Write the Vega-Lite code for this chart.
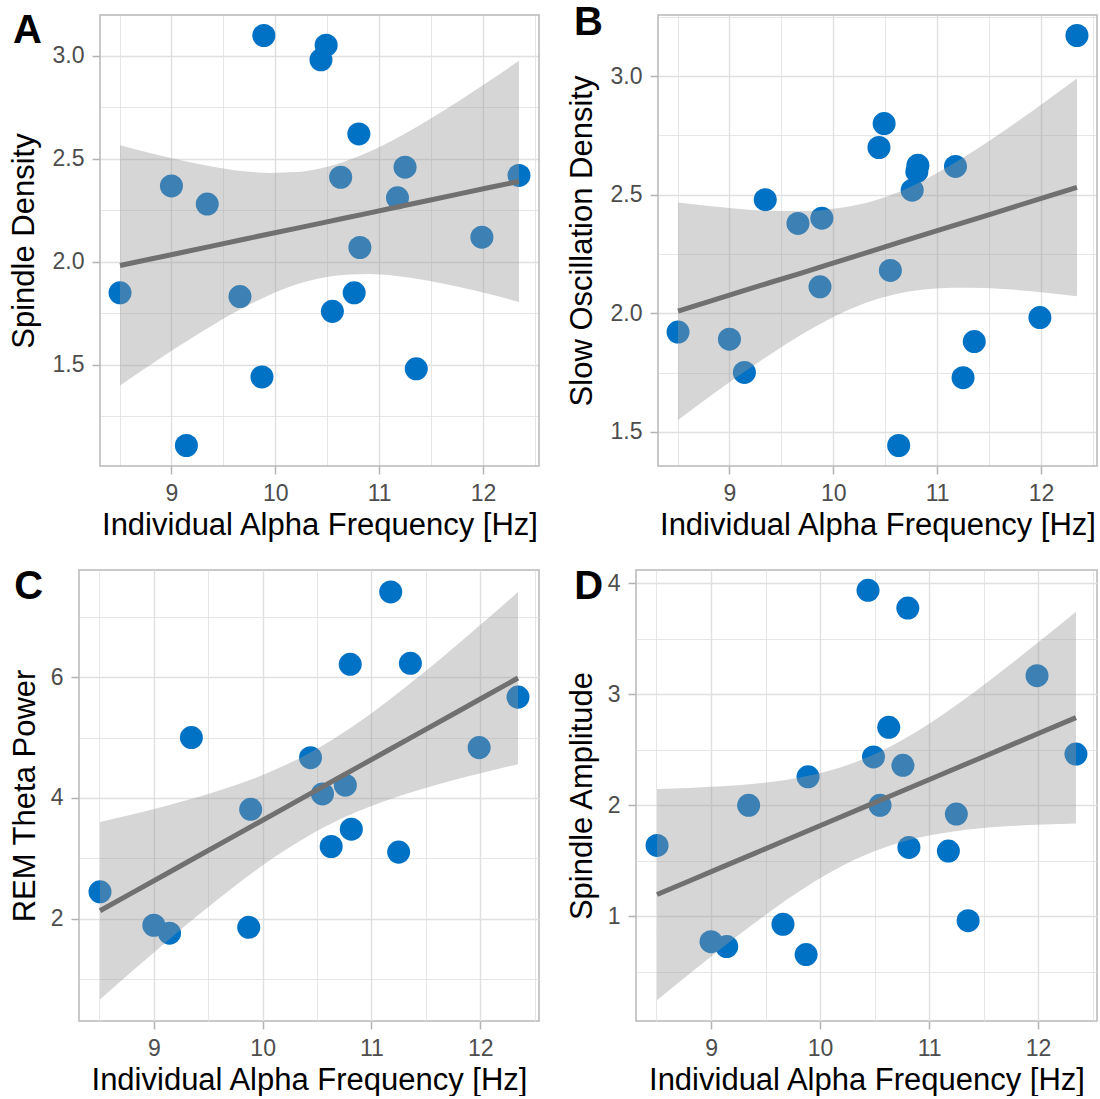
{
  "$schema": "https://vega.github.io/schema/vega-lite/v6.json",
  "padding": {"left": 8, "top": 2, "right": 0, "bottom": 0},
  "background": "#ffffff",
  "config": {
    "font": "Liberation Sans",
    "view": {"stroke": "#B8B8B8", "strokeWidth": 1.5},
    "axis": {"domain": false, "grid": true, "gridColor": "#E0E0E0", "labelFontSize": 23, "labelColor": "#4D4D4D", "labelPadding": 8, "labelOverlap": false, "labelFlush": false, "titleFontSize": 31, "titleFontWeight": "normal", "titleColor": "#000000", "tickColor": "#B3B3B3", "tickSize": 8, "tickWidth": 1.5},
    "axisX": {"titlePadding": 5},
    "axisY": {"titlePadding": 12}
  },
  "datasets": {
    "ptsA": [
      {"x": 8.505, "y": 1.849}, {"x": 9.0, "y": 2.368}, {"x": 9.144, "y": 1.108}, {"x": 9.345, "y": 2.28}, {"x": 9.66, "y": 1.831}, {"x": 9.872, "y": 1.441}, {"x": 9.89, "y": 3.098}, {"x": 10.44, "y": 2.98}, {"x": 10.49, "y": 3.051}, {"x": 10.55, "y": 1.759}, {"x": 10.63, "y": 2.41}, {"x": 10.76, "y": 1.849}, {"x": 10.805, "y": 2.62}, {"x": 10.815, "y": 2.069}, {"x": 11.177, "y": 2.31}, {"x": 11.25, "y": 2.459}, {"x": 11.358, "y": 1.48}, {"x": 11.99, "y": 2.119}, {"x": 12.347, "y": 2.419}
    ],
    "ptsB": [
      {"x": 8.505, "y": 1.921}, {"x": 9.0, "y": 1.891}, {"x": 9.144, "y": 1.751}, {"x": 9.345, "y": 2.479}, {"x": 9.66, "y": 2.379}, {"x": 9.872, "y": 2.112}, {"x": 9.89, "y": 2.401}, {"x": 10.44, "y": 2.699}, {"x": 10.49, "y": 2.8}, {"x": 10.55, "y": 2.181}, {"x": 10.63, "y": 1.443}, {"x": 10.76, "y": 2.519}, {"x": 10.805, "y": 2.597}, {"x": 10.815, "y": 2.624}, {"x": 11.177, "y": 2.619}, {"x": 11.25, "y": 1.729}, {"x": 11.358, "y": 1.881}, {"x": 11.99, "y": 1.982}, {"x": 12.347, "y": 3.171}
    ],
    "ptsC": [
      {"x": 8.505, "y": 2.444}, {"x": 9.0, "y": 1.89}, {"x": 9.144, "y": 1.758}, {"x": 9.345, "y": 5.001}, {"x": 9.872, "y": 1.856}, {"x": 9.89, "y": 3.812}, {"x": 10.44, "y": 4.667}, {"x": 10.55, "y": 4.067}, {"x": 10.63, "y": 3.195}, {"x": 10.76, "y": 4.211}, {"x": 10.805, "y": 6.214}, {"x": 10.815, "y": 3.483}, {"x": 11.177, "y": 7.414}, {"x": 11.25, "y": 3.102}, {"x": 11.358, "y": 6.231}, {"x": 11.99, "y": 4.834}, {"x": 12.347, "y": 5.671}
    ],
    "ptsD": [
      {"x": 8.505, "y": 1.637}, {"x": 9.0, "y": 0.77}, {"x": 9.144, "y": 0.726}, {"x": 9.345, "y": 1.999}, {"x": 9.66, "y": 0.927}, {"x": 9.872, "y": 0.654}, {"x": 9.89, "y": 2.256}, {"x": 10.44, "y": 3.937}, {"x": 10.49, "y": 2.435}, {"x": 10.55, "y": 1.999}, {"x": 10.63, "y": 2.702}, {"x": 10.76, "y": 2.36}, {"x": 10.805, "y": 3.777}, {"x": 10.815, "y": 1.619}, {"x": 11.177, "y": 1.587}, {"x": 11.25, "y": 1.92}, {"x": 11.358, "y": 0.959}, {"x": 11.99, "y": 3.167}, {"x": 12.347, "y": 2.461}
    ],
    "bandA": [
      {"x": 8.505, "lo": 1.399, "hi": 2.565, "fit": 1.982}, {"x": 8.8, "lo": 1.5, "hi": 2.527, "fit": 2.013}, {"x": 9.1, "lo": 1.599, "hi": 2.491, "fit": 2.045}, {"x": 9.4, "lo": 1.693, "hi": 2.461, "fit": 2.077}, {"x": 9.7, "lo": 1.779, "hi": 2.439, "fit": 2.109}, {"x": 9.95, "lo": 1.84, "hi": 2.431, "fit": 2.136}, {"x": 10.2, "lo": 1.889, "hi": 2.435, "fit": 2.162}, {"x": 10.43, "lo": 1.92, "hi": 2.453, "fit": 2.186}, {"x": 10.65, "lo": 1.936, "hi": 2.483, "fit": 2.21}, {"x": 10.9, "lo": 1.94, "hi": 2.532, "fit": 2.236}, {"x": 11.15, "lo": 1.932, "hi": 2.594, "fit": 2.263}, {"x": 11.45, "lo": 1.91, "hi": 2.68, "fit": 2.295}, {"x": 11.75, "lo": 1.88, "hi": 2.774, "fit": 2.327}, {"x": 12.05, "lo": 1.844, "hi": 2.873, "fit": 2.359}, {"x": 12.347, "lo": 1.805, "hi": 2.975, "fit": 2.39}
    ],
    "bandB": [
      {"x": 8.505, "lo": 1.551, "hi": 2.467, "fit": 2.009}, {"x": 8.8, "lo": 1.646, "hi": 2.452, "fit": 2.049}, {"x": 9.1, "lo": 1.74, "hi": 2.44, "fit": 2.09}, {"x": 9.4, "lo": 1.829, "hi": 2.432, "fit": 2.131}, {"x": 9.7, "lo": 1.912, "hi": 2.431, "fit": 2.171}, {"x": 9.95, "lo": 1.973, "hi": 2.438, "fit": 2.205}, {"x": 10.2, "lo": 2.025, "hi": 2.454, "fit": 2.239}, {"x": 10.43, "lo": 2.061, "hi": 2.48, "fit": 2.271}, {"x": 10.65, "lo": 2.086, "hi": 2.515, "fit": 2.301}, {"x": 10.9, "lo": 2.102, "hi": 2.567, "fit": 2.335}, {"x": 11.15, "lo": 2.108, "hi": 2.629, "fit": 2.369}, {"x": 11.45, "lo": 2.107, "hi": 2.712, "fit": 2.409}, {"x": 11.75, "lo": 2.099, "hi": 2.801, "fit": 2.45}, {"x": 12.05, "lo": 2.087, "hi": 2.895, "fit": 2.491}, {"x": 12.347, "lo": 2.072, "hi": 2.99, "fit": 2.531}
    ],
    "bandC": [
      {"x": 8.505, "lo": 0.659, "hi": 3.601, "fit": 2.13}, {"x": 8.8, "lo": 1.126, "hi": 3.726, "fit": 2.426}, {"x": 9.1, "lo": 1.592, "hi": 3.862, "fit": 2.727}, {"x": 9.4, "lo": 2.046, "hi": 4.011, "fit": 3.029}, {"x": 9.7, "lo": 2.48, "hi": 4.18, "fit": 3.33}, {"x": 9.95, "lo": 2.818, "hi": 4.343, "fit": 3.581}, {"x": 10.2, "lo": 3.128, "hi": 4.536, "fit": 3.832}, {"x": 10.43, "lo": 3.381, "hi": 4.745, "fit": 4.063}, {"x": 10.65, "lo": 3.591, "hi": 4.976, "fit": 4.284}, {"x": 10.9, "lo": 3.794, "hi": 5.276, "fit": 4.535}, {"x": 11.15, "lo": 3.965, "hi": 5.606, "fit": 4.786}, {"x": 11.45, "lo": 4.14, "hi": 6.033, "fit": 5.087}, {"x": 11.75, "lo": 4.293, "hi": 6.483, "fit": 5.388}, {"x": 12.05, "lo": 4.432, "hi": 6.946, "fit": 5.689}, {"x": 12.347, "lo": 4.56, "hi": 7.415, "fit": 5.987}
    ],
    "bandD": [
      {"x": 8.505, "lo": 0.243, "hi": 2.147, "fit": 1.195}, {"x": 8.8, "lo": 0.479, "hi": 2.156, "fit": 1.317}, {"x": 9.1, "lo": 0.714, "hi": 2.17, "fit": 1.442}, {"x": 9.4, "lo": 0.939, "hi": 2.193, "fit": 1.566}, {"x": 9.7, "lo": 1.152, "hi": 2.23, "fit": 1.691}, {"x": 9.95, "lo": 1.312, "hi": 2.277, "fit": 1.795}, {"x": 10.2, "lo": 1.453, "hi": 2.344, "fit": 1.898}, {"x": 10.43, "lo": 1.559, "hi": 2.429, "fit": 1.994}, {"x": 10.65, "lo": 1.639, "hi": 2.532, "fit": 2.085}, {"x": 10.9, "lo": 1.706, "hi": 2.672, "fit": 2.189}, {"x": 11.15, "lo": 1.752, "hi": 2.834, "fit": 2.293}, {"x": 11.45, "lo": 1.789, "hi": 3.046, "fit": 2.417}, {"x": 11.75, "lo": 1.812, "hi": 3.272, "fit": 2.542}, {"x": 12.05, "lo": 1.826, "hi": 3.506, "fit": 2.666}, {"x": 12.347, "lo": 1.835, "hi": 3.744, "fit": 2.789}
    ]
  },
  "columns": 2,
  "spacing": {"row": 26, "column": 25},
  "concat": [
    {
      "width": 460, "height": 451,
      "view": {"stroke": null},
      "title": {"text": "A", "anchor": "start", "frame": "bounds", "fontSize": 40, "fontWeight": "bold", "color": "#000000", "offset": 0, "dy": 37, "dx": 5},
      "layer": [
        {"data": {"values": [{"panel": "A"}]}, "mark": {"type": "rect", "fill": "transparent", "stroke": "#B8B8B8", "strokeWidth": 1.5},
         "encoding": {
           "x": {"datum": 8.312, "type": "quantitative", "scale": {"domain": [8.312, 12.54], "range": [21, 460], "nice": false, "zero": false}, "title": "Individual Alpha Frequency [Hz]"},
           "x2": {"datum": 12.54},
           "y": {"datum": 1.0085, "type": "quantitative", "scale": {"domain": [1.0085, 3.1975], "nice": false, "zero": false}, "title": "Spindle Density"},
           "y2": {"datum": 3.1975}
         }},
        {"data": {"name": "ptsA"}, "mark": {"type": "circle", "size": 530, "opacity": 1, "color": "#0072C6"},
         "encoding": {
           "x": {"field": "x", "type": "quantitative", "scale": {"domain": [8.312, 12.54], "range": [21, 460], "nice": false, "zero": false}, "title": "Individual Alpha Frequency [Hz]",
                 "axis": {"values": [8.5, 9, 9.5, 10, 10.5, 11, 11.5, 12, 12.5], "labelExpr": "abs(datum.value - round(datum.value)) < 0.001 ? format(datum.value, 'd') : ''", "tickOpacity": {"condition": {"test": "abs(datum.value - round(datum.value)) < 0.001", "value": 1}, "value": 0}, "gridWidth": {"condition": {"test": "abs(datum.value - round(datum.value)) < 0.001", "value": 1.4}, "value": 0.8}}},
           "y": {"field": "y", "type": "quantitative", "scale": {"domain": [1.0085, 3.1975], "nice": false, "zero": false}, "title": "Spindle Density",
                 "axis": {"values": [1.25, 1.5, 1.75, 2, 2.25, 2.5, 2.75, 3], "format": ".1f", "offset": -21, "labelExpr": "abs(datum.value * 2 - round(datum.value * 2)) < 0.001 ? datum.label : ''", "tickOpacity": {"condition": {"test": "abs(datum.value * 2 - round(datum.value * 2)) < 0.001", "value": 1}, "value": 0}, "gridWidth": {"condition": {"test": "abs(datum.value * 2 - round(datum.value * 2)) < 0.001", "value": 1.4}, "value": 0.8}}}
         }},
        {"data": {"name": "bandA"}, "mark": {"type": "area", "color": "#999999", "opacity": 0.4, "interpolate": "monotone"},
         "encoding": {
           "x": {"field": "x", "type": "quantitative", "scale": {"domain": [8.312, 12.54], "range": [21, 460], "nice": false, "zero": false}, "title": "Individual Alpha Frequency [Hz]"},
           "y": {"field": "lo", "type": "quantitative", "scale": {"domain": [1.0085, 3.1975], "nice": false, "zero": false}, "title": "Spindle Density"},
           "y2": {"field": "hi"}
         }},
        {"data": {"name": "bandA"}, "mark": {"type": "line", "color": "#707070", "strokeWidth": 5},
         "encoding": {
           "x": {"field": "x", "type": "quantitative", "scale": {"domain": [8.312, 12.54], "range": [21, 460], "nice": false, "zero": false}, "title": "Individual Alpha Frequency [Hz]"},
           "y": {"field": "fit", "type": "quantitative", "scale": {"domain": [1.0085, 3.1975], "nice": false, "zero": false}, "title": "Spindle Density"}
         }}
      ]
    },
    {
      "width": 461, "height": 451,
      "view": {"stroke": null},
      "title": {"text": "B", "anchor": "start", "frame": "bounds", "fontSize": 40, "fontWeight": "bold", "color": "#000000", "offset": 0, "dy": 37, "dx": 8},
      "layer": [
        {"data": {"values": [{"panel": "B"}]}, "mark": {"type": "rect", "fill": "transparent", "stroke": "#B8B8B8", "strokeWidth": 1.5},
         "encoding": {
           "x": {"datum": 8.312, "type": "quantitative", "scale": {"domain": [8.312, 12.54], "range": [22, 461], "nice": false, "zero": false}, "title": "Individual Alpha Frequency [Hz]"},
           "x2": {"datum": 12.54},
           "y": {"datum": 1.3566, "type": "quantitative", "scale": {"domain": [1.3566, 3.2574], "nice": false, "zero": false}, "title": "Slow Oscillation Density"},
           "y2": {"datum": 3.2574}
         }},
        {"data": {"name": "ptsB"}, "mark": {"type": "circle", "size": 530, "opacity": 1, "color": "#0072C6"},
         "encoding": {
           "x": {"field": "x", "type": "quantitative", "scale": {"domain": [8.312, 12.54], "range": [22, 461], "nice": false, "zero": false}, "title": "Individual Alpha Frequency [Hz]",
                 "axis": {"values": [8.5, 9, 9.5, 10, 10.5, 11, 11.5, 12, 12.5], "labelExpr": "abs(datum.value - round(datum.value)) < 0.001 ? format(datum.value, 'd') : ''", "tickOpacity": {"condition": {"test": "abs(datum.value - round(datum.value)) < 0.001", "value": 1}, "value": 0}, "gridWidth": {"condition": {"test": "abs(datum.value - round(datum.value)) < 0.001", "value": 1.4}, "value": 0.8}}},
           "y": {"field": "y", "type": "quantitative", "scale": {"domain": [1.3566, 3.2574], "nice": false, "zero": false}, "title": "Slow Oscillation Density",
                 "axis": {"values": [1.5, 1.75, 2, 2.25, 2.5, 2.75, 3, 3.25], "format": ".1f", "offset": -22, "labelExpr": "abs(datum.value * 2 - round(datum.value * 2)) < 0.001 ? datum.label : ''", "tickOpacity": {"condition": {"test": "abs(datum.value * 2 - round(datum.value * 2)) < 0.001", "value": 1}, "value": 0}, "gridWidth": {"condition": {"test": "abs(datum.value * 2 - round(datum.value * 2)) < 0.001", "value": 1.4}, "value": 0.8}}}
         }},
        {"data": {"name": "bandB"}, "mark": {"type": "area", "color": "#999999", "opacity": 0.4, "interpolate": "monotone"},
         "encoding": {
           "x": {"field": "x", "type": "quantitative", "scale": {"domain": [8.312, 12.54], "range": [22, 461], "nice": false, "zero": false}, "title": "Individual Alpha Frequency [Hz]"},
           "y": {"field": "lo", "type": "quantitative", "scale": {"domain": [1.3566, 3.2574], "nice": false, "zero": false}, "title": "Slow Oscillation Density"},
           "y2": {"field": "hi"}
         }},
        {"data": {"name": "bandB"}, "mark": {"type": "line", "color": "#707070", "strokeWidth": 5},
         "encoding": {
           "x": {"field": "x", "type": "quantitative", "scale": {"domain": [8.312, 12.54], "range": [22, 461], "nice": false, "zero": false}, "title": "Individual Alpha Frequency [Hz]"},
           "y": {"field": "fit", "type": "quantitative", "scale": {"domain": [1.3566, 3.2574], "nice": false, "zero": false}, "title": "Slow Oscillation Density"}
         }}
      ]
    },
    {
      "width": 460, "height": 451,
      "title": {"text": "C", "anchor": "start", "frame": "bounds", "fontSize": 40, "fontWeight": "bold", "color": "#000000", "offset": 0, "dy": 37, "dx": 5},
      "layer": [
        {"data": {"name": "ptsC"}, "mark": {"type": "circle", "size": 530, "opacity": 1, "color": "#0072C6"},
         "encoding": {
           "x": {"field": "x", "type": "quantitative", "scale": {"domain": [8.312, 12.54], "nice": false, "zero": false}, "title": "Individual Alpha Frequency [Hz]",
                 "axis": {"values": [8.5, 9, 9.5, 10, 10.5, 11, 11.5, 12, 12.5], "labelExpr": "abs(datum.value - round(datum.value)) < 0.001 ? format(datum.value, 'd') : ''", "tickOpacity": {"condition": {"test": "abs(datum.value - round(datum.value)) < 0.001", "value": 1}, "value": 0}, "gridWidth": {"condition": {"test": "abs(datum.value - round(datum.value)) < 0.001", "value": 1.4}, "value": 0.8}}},
           "y": {"field": "y", "type": "quantitative", "scale": {"domain": [0.303, 7.778], "nice": false, "zero": false}, "title": "REM Theta Power",
                 "axis": {"values": [1, 2, 3, 4, 5, 6, 7], "format": "d", "titlePadding": 9, "labelExpr": "datum.value % 2 === 0 ? datum.label : ''", "tickOpacity": {"condition": {"test": "datum.value % 2 === 0", "value": 1}, "value": 0}, "gridWidth": {"condition": {"test": "datum.value % 2 === 0", "value": 1.4}, "value": 0.8}}}
         }},
        {"data": {"name": "bandC"}, "mark": {"type": "area", "color": "#999999", "opacity": 0.4, "interpolate": "monotone"},
         "encoding": {
           "x": {"field": "x", "type": "quantitative", "scale": {"domain": [8.312, 12.54], "nice": false, "zero": false}, "title": "Individual Alpha Frequency [Hz]"},
           "y": {"field": "lo", "type": "quantitative", "scale": {"domain": [0.303, 7.778], "nice": false, "zero": false}, "title": "REM Theta Power"},
           "y2": {"field": "hi"}
         }},
        {"data": {"name": "bandC"}, "mark": {"type": "line", "color": "#707070", "strokeWidth": 5},
         "encoding": {
           "x": {"field": "x", "type": "quantitative", "scale": {"domain": [8.312, 12.54], "nice": false, "zero": false}, "title": "Individual Alpha Frequency [Hz]"},
           "y": {"field": "fit", "type": "quantitative", "scale": {"domain": [0.303, 7.778], "nice": false, "zero": false}, "title": "REM Theta Power"}
         }}
      ]
    },
    {
      "width": 461, "height": 451,
      "title": {"text": "D", "anchor": "start", "frame": "bounds", "fontSize": 40, "fontWeight": "bold", "color": "#000000", "offset": 0, "dy": 37, "dx": 8},
      "layer": [
        {"data": {"name": "ptsD"}, "mark": {"type": "circle", "size": 530, "opacity": 1, "color": "#0072C6"},
         "encoding": {
           "x": {"field": "x", "type": "quantitative", "scale": {"domain": [8.312, 12.54], "nice": false, "zero": false}, "title": "Individual Alpha Frequency [Hz]",
                 "axis": {"values": [8.5, 9, 9.5, 10, 10.5, 11, 11.5, 12, 12.5], "labelExpr": "abs(datum.value - round(datum.value)) < 0.001 ? format(datum.value, 'd') : ''", "tickOpacity": {"condition": {"test": "abs(datum.value - round(datum.value)) < 0.001", "value": 1}, "value": 0}, "gridWidth": {"condition": {"test": "abs(datum.value - round(datum.value)) < 0.001", "value": 1.4}, "value": 0.8}}},
           "y": {"field": "y", "type": "quantitative", "scale": {"domain": [0.055, 4.12], "nice": false, "zero": false}, "title": "Spindle Amplitude",
                 "axis": {"values": [0.5, 1, 1.5, 2, 2.5, 3, 3.5, 4], "titlePadding": 9, "labelExpr": "abs(datum.value - round(datum.value)) < 0.001 ? format(datum.value, 'd') : ''", "tickOpacity": {"condition": {"test": "abs(datum.value - round(datum.value)) < 0.001", "value": 1}, "value": 0}, "gridWidth": {"condition": {"test": "abs(datum.value - round(datum.value)) < 0.001", "value": 1.4}, "value": 0.8}}}
         }},
        {"data": {"name": "bandD"}, "mark": {"type": "area", "color": "#999999", "opacity": 0.4, "interpolate": "monotone"},
         "encoding": {
           "x": {"field": "x", "type": "quantitative", "scale": {"domain": [8.312, 12.54], "nice": false, "zero": false}, "title": "Individual Alpha Frequency [Hz]"},
           "y": {"field": "lo", "type": "quantitative", "scale": {"domain": [0.055, 4.12], "nice": false, "zero": false}, "title": "Spindle Amplitude"},
           "y2": {"field": "hi"}
         }},
        {"data": {"name": "bandD"}, "mark": {"type": "line", "color": "#707070", "strokeWidth": 5},
         "encoding": {
           "x": {"field": "x", "type": "quantitative", "scale": {"domain": [8.312, 12.54], "nice": false, "zero": false}, "title": "Individual Alpha Frequency [Hz]"},
           "y": {"field": "fit", "type": "quantitative", "scale": {"domain": [0.055, 4.12], "nice": false, "zero": false}, "title": "Spindle Amplitude"}
         }}
      ]
    }
  ]
}
